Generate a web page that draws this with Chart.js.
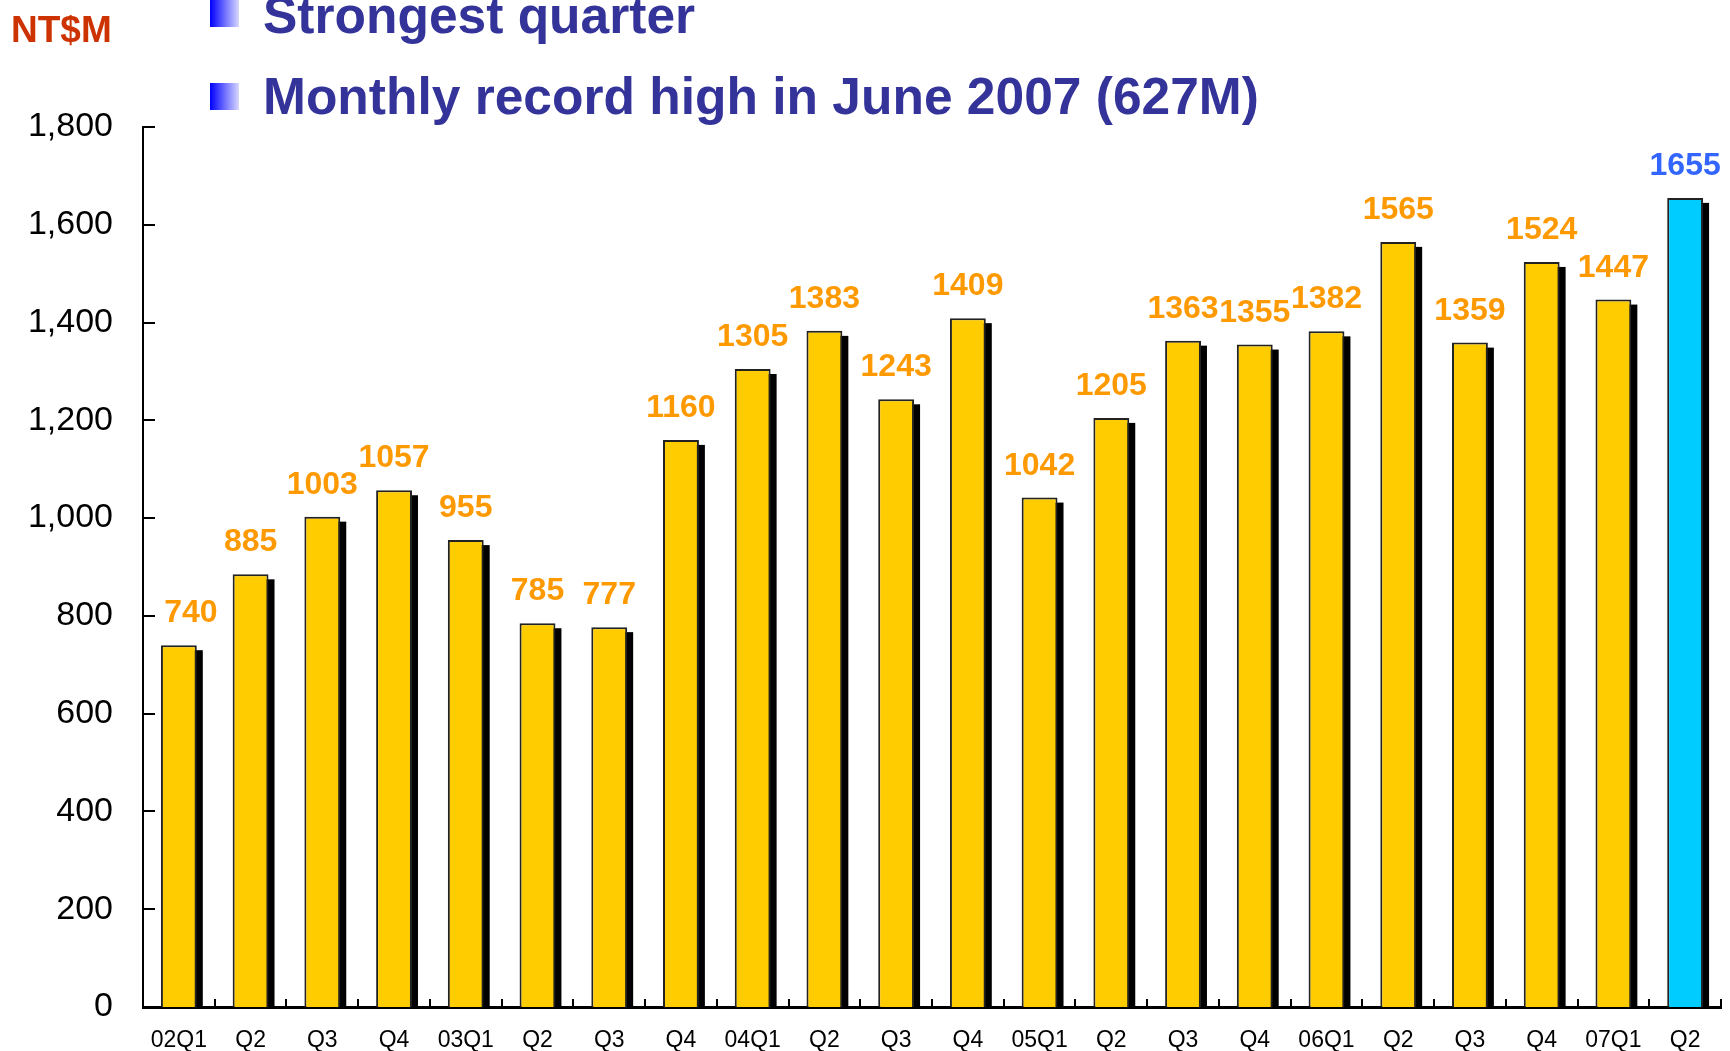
<!DOCTYPE html>
<html>
<head>
<meta charset="utf-8">
<script src="https://cdn.jsdelivr.net/npm/chart.js@4"></script>
<style>
  body { margin: 0; background: #fff; overflow: hidden; }
  canvas { display: block; }
</style>
</head>
<body>
<canvas id="myChart" width="1730" height="1051"></canvas>
<script>
const quarters = ["02Q1","Q2","Q3","Q4","03Q1","Q2","Q3","Q4","04Q1","Q2","Q3","Q4","05Q1","Q2","Q3","Q4","06Q1","Q2","Q3","Q4","07Q1","Q2"]
const revenue = [740,885,1003,1057,955,785,777,1160,1305,1383,1243,1409,1042,1205,1363,1355,1382,1565,1359,1524,1447,1655]
const yTicks = [0,200,400,600,800,1000,1200,1400,1600,1800]
const bullets = ["Strongest quarter", "Monthly record high in June 2007 (627M)"]
const unitLabel = "NT$M"

const FONT = "'Liberation Sans', Arial, sans-serif"
const last = revenue.length - 1

// colours per bar: yellow, latest quarter in cyan
const barColors = revenue.map((v, i) => i == last ? "#00CCFF" : "#FFCC00")
const labelColors = revenue.map((v, i) => i == last ? "#3366FF" : "#FF9900")

// black block behind each bar (offset shadow)
const shadowPlugin = {
  id: "shadow",
  beforeDatasetsDraw(chart) {
    const ctx = chart.ctx
    const meta = chart.getDatasetMeta(0)
    ctx.save()
    ctx.fillStyle = "#000"
    meta.data.forEach(bar => {
      const p = bar.getProps(["x", "y", "width", "base"], true)
      ctx.fillRect(p.x - p.width / 2 + 6, p.y + 5, p.width, p.base - p.y - 5)
    })
    ctx.restore()
  }
}

// value on top of each bar + inner tick marks + header
const extrasPlugin = {
  id: "extras",
  afterDraw(chart) {
    const ctx = chart.ctx
    const area = chart.chartArea
    const y = chart.scales.y

    ctx.save()
    ctx.strokeStyle = "#000"
    ctx.lineWidth = 2
    ctx.beginPath()
    yTicks.forEach(t => {
      const py = Math.round(y.getPixelForValue(t))
      ctx.moveTo(area.left, py)
      ctx.lineTo(area.left + 12, py)
    })
    const step = (area.right - area.left) / quarters.length
    for (let i = 1; i <= quarters.length; i++) {
      const px = Math.round(area.left + step * i)
      ctx.moveTo(px, area.bottom)
      ctx.lineTo(px, area.bottom - 8)
    }
    ctx.stroke()

    ctx.font = "bold 32px " + FONT
    ctx.textAlign = "center"
    ctx.textBaseline = "alphabetic"
    const meta = chart.getDatasetMeta(0)
    meta.data.forEach((bar, i) => {
      ctx.fillStyle = labelColors[i]
      let px = bar.x
      if (i == 0) px += 12
      ctx.fillText(String(revenue[i]), px, bar.y - 23)
    })

    // header
    ctx.fillStyle = "#CC3300"
    ctx.textAlign = "left"
    ctx.font = "bold 37px " + FONT
    ctx.fillText(unitLabel, 11, 42)

    const rows = [[0, 33], [83, 114]]
    bullets.forEach((txt, i) => {
      const top = rows[i][0]
      const g = ctx.createLinearGradient(210, 0, 239, 0)
      g.addColorStop(0, "#0000FF")
      g.addColorStop(1, "#D8D8FF")
      ctx.fillStyle = g
      ctx.fillRect(210, top, 29, 27)
      ctx.fillStyle = "#333399"
      ctx.font = "bold 51.5px " + FONT
      ctx.fillText(txt, 263, rows[i][1])
    })
    ctx.restore()
  }
}

const chart = new Chart("myChart", {
  type: "bar",
  data: {
    labels: quarters,
    datasets: [{
      data: revenue,
      backgroundColor: barColors,
      borderColor: "#222",
      borderWidth: 2,
      barPercentage: 0.5,
      categoryPercentage: 1
    }]
  },
  options: {
    responsive: false,
    animation: false,
    layout: { padding: { top: 127, right: 9, left: 0, bottom: 0 } },
    plugins: {
      legend: { display: false },
      tooltip: { enabled: false }
    },
    scales: {
      x: {
        grid: { display: false, drawTicks: false },
        border: { display: true, color: "#000", width: 3 },
        ticks: {
          color: "#000",
          font: { family: FONT, size: 23 },
          padding: 20,
          maxRotation: 0,
          autoSkip: false
        },
        afterFit(scale) { scale.height = 44 }
      },
      y: {
        min: 0,
        max: 1800,
        grid: { display: false, drawTicks: false },
        border: { display: true, color: "#000", width: 2 },
        ticks: {
          stepSize: 200,
          color: "#000",
          font: { family: FONT, size: 34 },
          padding: 30,
          callback: v => v.toLocaleString("en-US")
        },
        afterFit(scale) {
          scale.width = 143
          scale.paddingTop = 0
          scale.paddingBottom = 0
        }
      }
    }
  },
  plugins: [shadowPlugin, extrasPlugin]
})
</script>
</body>
</html>
